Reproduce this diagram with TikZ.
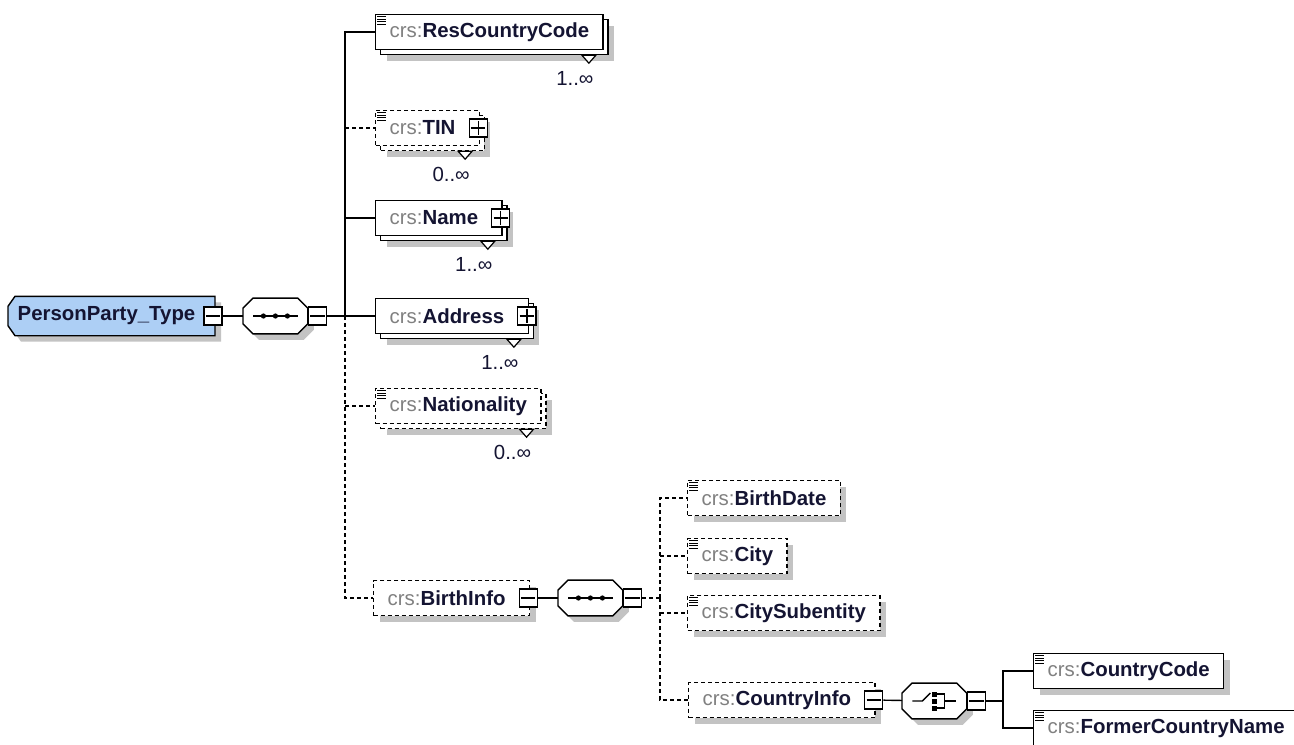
\documentclass[tikz,border=0pt]{standalone}
\usepackage{fontspec}
\newfontfamily\arial{Liberation Sans}
\usepackage{tikz}
\usetikzlibrary{positioning,calc,shadows,backgrounds}

\definecolor{crsgray}{RGB}{128,128,128}
\definecolor{nametext}{RGB}{20,20,50}
\definecolor{typeblue}{RGB}{173,207,245}
\definecolor{shadowgray}{RGB}{195,195,195}
\newcommand{\crs}[1]{{\color{crsgray}crs:}\textbf{#1}}
% outline of a compositor / type box, chamfered by #2 (x) and #3 (y)
\newcommand{\octpath}[3]{($(#1.north west)+(#2,0)$) -- ($(#1.north east)+(-#2,0)$) -- ($(#1.north east)+(0,#3)$)
    -- ($(#1.south east)+(0,-#3)$) -- ($(#1.south east)+(-#2,0)$) -- ($(#1.south west)+(#2,0)$)
    -- ($(#1.south west)+(0,-#3)$) -- ($(#1.north west)+(0,#3)$) -- cycle}
\newcommand{\typepath}[3]{($(#1.north west)+(#2,0)$) -- (#1.north east) -- (#1.south east)
    -- ($(#1.south west)+(#2,0)$) -- ($(#1.south west)+(0,-#3)$) -- ($(#1.north west)+(0,#3)$) -- cycle}

\tikzset{
    elem/.style={draw, fill=white, line width=0.7pt, anchor=west, minimum height=17.5pt,
        inner xsep=7pt, inner ysep=0pt, text=nametext, font=\arial\fontsize{10.2}{12}\selectfont},
    shd/.style={drop shadow={shadow xshift=3pt, shadow yshift=-3pt, fill=shadowgray, opacity=1, draw=none}},
    multi/.style={drop shadow={shadow xshift=5.5pt, shadow yshift=-5.5pt, fill=shadowgray, opacity=1, draw=none},
        copy shadow={shadow xshift=2.5pt, shadow yshift=-2.5pt}},
    opt/.style={dash pattern=on 2pt off 1.5pt},
    expd/.style={execute at end node=\hspace{5pt}},
    comp/.style={minimum width=32pt, minimum height=17.5pt, inner sep=0pt, anchor=west},
    compline/.style={draw, fill=white, line width=0.7pt},
    compshd/.style={fill=shadowgray, transform canvas={shift={(3pt,-3pt)}}},
    minusbox/.style={draw, fill=white, line width=0.6pt, minimum size=9pt, inner sep=0pt,
        path picture={\draw[line width=0.6pt] ([xshift=0.9pt]path picture bounding box.west) -- ([xshift=-0.9pt]path picture bounding box.east);}},
    plusbox/.style={draw, fill=white, line width=0.6pt, minimum size=9pt, inner sep=0pt,
        path picture={\draw[line width=0.6pt] ([xshift=0.9pt]path picture bounding box.west) -- ([xshift=-0.9pt]path picture bounding box.east);
            \draw[line width=0.6pt] ([yshift=-0.9pt]path picture bounding box.north) -- ([yshift=0.9pt]path picture bounding box.south);}},
    occ/.style={text=nametext, font=\arial\fontsize{10.2}{12}\selectfont},
    link/.style={line width=0.7pt},
    optlink/.style={line width=0.7pt, dash pattern=on 2pt off 1.5pt}
}

\begin{document}
\begin{tikzpicture}[x=0.5pt, y=-0.5pt]
    \useasboundingbox (0,0) rectangle (1294,744);

    % root type and its sequence
    \node[elem, draw=none, fill=none, minimum height=19pt, inner xsep=4.5pt, expd]
        (ppt) at (8,316) {\textbf{PersonParty\_Type}};
    \node[minusbox] (pptM) at ([xshift=-1pt]ppt.east) {};
    \node[comp] (seqA) at (243,316) {};
    \node[minusbox, anchor=west] (seqAM) at (seqA.east) {};
    \coordinate (busA) at (345,316);

    % children of the sequence
    \node[elem, multi] (rcc) at (375,32) {\crs{ResCountryCode}};
    \node[elem, opt, multi, expd] (tin) at (375,128) {\crs{TIN}};
    \node[elem, multi, expd] (name) at (375,218) {\crs{Name}};
    \node[elem, multi, expd] (addr) at (375,316) {\crs{Address}};
    \node[elem, opt, multi] (nat) at (375,406) {\crs{Nationality}};
    \node[elem, opt, shd, expd] (birth) at (373,598) {\crs{BirthInfo}};

    \node[plusbox] (tinP) at ([xshift=-1pt]tin.east) {};
    \node[plusbox] (nameP) at ([xshift=-1pt]name.east) {};
    \node[plusbox] (addrP) at ([xshift=-1pt]addr.east) {};
    \node[minusbox] (birthM) at ([xshift=-1pt]birth.east) {};

    % birth info sequence
    \node[comp] (seqB) at (558,598) {};
    \node[minusbox, anchor=west] (seqBM) at (seqB.east) {};
    \coordinate (busB) at (660,598);

    \node[elem, opt, shd] (bdate) at (687,498) {\crs{BirthDate}};
    \node[elem, opt, shd] (city) at (687,556) {\crs{City}};
    \node[elem, opt, shd] (csub) at (687,613) {\crs{CitySubentity}};
    \node[elem, opt, shd, expd] (cinfo) at (688,700) {\crs{CountryInfo}};
    \node[minusbox] (cinfoM) at ([xshift=-1pt]cinfo.east) {};

    % country choice
    \node[comp] (choice) at (902,701) {};
    \node[minusbox, anchor=west] (choiceM) at (choice.east) {};
    \coordinate (busC) at (1003,701);

    \node[elem, shd] (ccode) at (1033,671) {\crs{CountryCode}};
    \node[elem, shd] (fcname) at (1033,728) {\crs{FormerCountryName}};

    % outlines behind the root type and compositors
    \begin{pgfonlayer}{background}
        \fill[compshd] \typepath{ppt}{7}{10};
        \draw[compline, fill=typeblue] \typepath{ppt}{7}{10};
        \foreach \sq in {seqA,seqB,choice} {
            \fill[compshd] \octpath{\sq}{10}{10};
            \draw[compline] \octpath{\sq}{10}{10};
        }
    \end{pgfonlayer}

    % sequence symbols
    \foreach \sq in {seqA,seqB} {
        \draw[line width=0.7pt] ($(\sq.center)+(-22,0)$) -- ++(45,0);
        \foreach \dx in {-12,0,12}
            \fill ($(\sq.center)+(\dx,0)$) circle (1.3pt);
    }

    % choice symbol
    \draw[line width=0.7pt] ($(choice.center)+(-22,0)$) -- ++(10,0) -- ++(8,-8);
    \foreach \dy in {-7,0,7}
        \fill ($(choice.center)+(-2.5,\dy-2.5)$) rectangle ++(5,5);
    \draw[line width=0.7pt] ($(choice.center)+(2,-7)$) -- ++(8,0) -- ++(0,14) -- ++(-8,0);
    \draw[line width=0.7pt] ($(choice.center)+(10,0)$) -- ++(12,0);

    % simple type icons
    \foreach \el in {rcc,tin,nat,bdate,city,csub,ccode,fcname}
        \foreach \k in {0,...,3}
            \draw[line width=0.5pt] ($(\el.north west)+(2,3+2.5*\k)$) -- ++(9,0);

    % occurrence marks
    \foreach \el/\lo in {rcc/1,tin/0,name/1,addr/1,nat/0} {
        \coordinate (\el T) at ($(\el.south east)+(-15,5)$);
        \draw[line width=0.6pt, fill=white] ($(\el T)+(-7,0)$) -- ($(\el T)+(7,0)$) -- ($(\el T)+(0,8)$) -- cycle;
        \node[occ, anchor=north] (\el O) at ($(\el T)+(-14,9)$) {\lo..∞};
    }

    % connectors
    \draw[link] (pptM) -- (seqA);
    \draw[link] (seqAM) -- (addr);
    \draw[link] (busA) |- (rcc.west);
    \draw[link] (busA) |- (name.west);
    \draw[optlink] (busA) |- (birth.west);
    \draw[optlink] (busA |- tin.west) -- (tin.west);
    \draw[optlink] (busA |- nat.west) -- (nat.west);

    \draw[link] (birthM) -- (seqB);
    \draw[optlink] (seqBM) -- (busB);
    \draw[optlink] (busB) |- (bdate.west);
    \draw[optlink] (busB) |- (cinfo.west);
    \draw[optlink] (busB |- city.west) -- (city.west);
    \draw[optlink] (busB |- csub.west) -- (csub.west);

    \draw[link] (cinfoM) -- (choice);
    \draw[link] (choiceM) -- (busC);
    \draw[link] (busC) |- (ccode.west);
    \draw[link] (busC) |- (fcname.west);
\end{tikzpicture}
\end{document}
